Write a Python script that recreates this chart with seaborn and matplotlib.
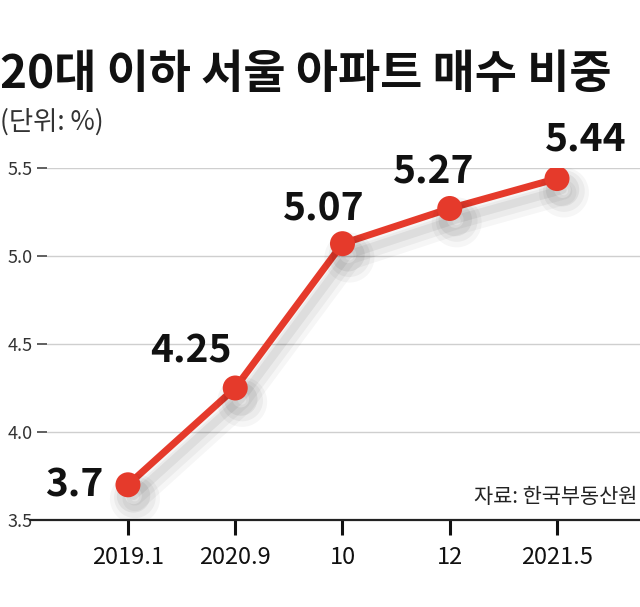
import matplotlib
matplotlib.use("Agg")
import matplotlib.pyplot as plt
import matplotlib.patheffects as pe
import seaborn as sns
import pandas as pd

periods = ["2019.1", "2020.9", "10", "12", "2021.5"]
share = [3.7, 4.25, 5.07, 5.27, 5.44]
y_ticks = [3.5, 4.0, 4.5, 5.0, 5.5]
y_labels = ["3.5", "4.0", "4.5", "5.0", "5.5"]

df = pd.DataFrame({"period": periods, "share": share, "pos": range(len(periods))})

sns.set_theme(style="white")
plt.rcParams["font.family"] = ["Noto Sans CJK KR", "DejaVu Sans"]

RED = "#e53a2b"

fig = plt.figure(figsize=(6.4, 6.07), dpi=100)
ax = fig.add_axes([47 / 640, 1 - 520 / 607, 593 / 640, (520 - 168) / 607])

# grid lines
for t in y_ticks[1:]:
    ax.axhline(t, color="#cfcfcf", lw=1.0, zorder=0)
# base line, reaching a bit left of the axes
ax.axhline(3.5, xmin=-17 / 593, xmax=1, color="#222222", lw=1.6, clip_on=False, zorder=1)

# soft drop shadow under the line
shadow = [
    pe.SimpleLineShadow(offset=(5, -10), shadow_color="#000000", alpha=0.035, linewidth=18),
    pe.SimpleLineShadow(offset=(5, -9), shadow_color="#000000", alpha=0.045, linewidth=12),
    pe.SimpleLineShadow(offset=(4, -8), shadow_color="#000000", alpha=0.06, linewidth=6),
    pe.Normal(),
]
sns.lineplot(data=df, x="pos", y="share", ax=ax, color=RED, lw=5, marker="o",
             markersize=18, markeredgewidth=0, zorder=5)
ax.lines[-1].set_path_effects(shadow)

ax.set_xlim(-0.755, 4.774)
ax.set_ylim(3.5, 5.5)
ax.set_yticks(y_ticks)
ax.set_yticklabels(y_labels)
ax.set_xticks(df["pos"])
ax.set_xticklabels(periods)
for s in ax.spines.values():
    s.set_visible(False)
ax.tick_params(axis="y", left=True, length=7, width=1.2, color="#444444", pad=3, labelsize=13,
               labelcolor="#333333", direction="out")
ax.tick_params(axis="x", bottom=True, length=11, width=2.2, color="#111111", pad=8, labelsize=17,
               labelcolor="#111111", direction="out")
ax.yaxis.get_major_ticks()[0].tick1line.set_visible(False)
ax.set_xlabel("")
ax.set_ylabel("")

offsets = [(-25, 0), (-44, 37), (-19, 35), (-16, 36), (29, 40)]
aligns = ["right", "center", "center", "center", "center"]
for x, v, off, ha in zip(df["pos"], share, offsets, aligns):
    ax.annotate(f"{v:g}", (x, v), xytext=off, textcoords="offset pixels",
                ha=ha, va="center", fontsize=28, fontweight="bold", color="#111111",
                annotation_clip=False, zorder=6)

fig.text(0.0, 1 - 75 / 607, "20대 이하 서울 아파트 매수 비중", fontsize=33,
         fontweight="bold", color="#111111", va="center", ha="left")
fig.text(0.0, 1 - 122 / 607, "(단위: %)", fontsize=19, color="#333333",
         va="center", ha="left")
fig.text(637 / 640, 1 - 497 / 607, "자료: 한국부동산원", fontsize=15, color="#222222",
         va="center", ha="right")

fig.savefig("out.png", dpi=100)
